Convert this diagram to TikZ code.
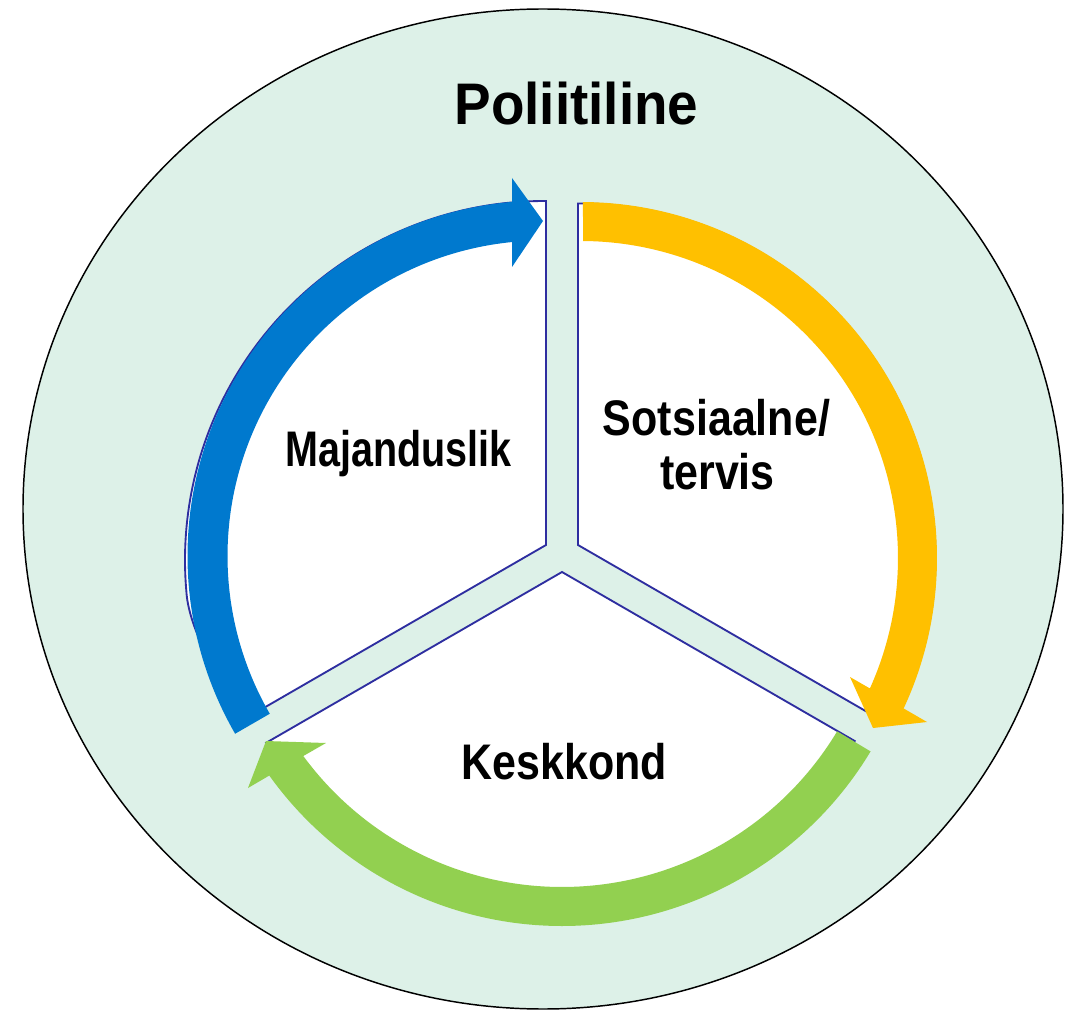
\documentclass[tikz,border=0pt]{standalone}
\usepackage{fontspec}
\setmainfont{Liberation Sans}
\newfontfamily\labfont[FakeStretch=0.86]{Liberation Sans}
\newfontfamily\majfont[FakeStretch=0.79]{Liberation Sans}
\newfontfamily\titfont[FakeStretch=0.935]{Liberation Sans}
\usetikzlibrary{calc}
\definecolor{mint}{RGB}{221,241,232}
\definecolor{bluec}{RGB}{0,121,206}
\definecolor{yellowc}{RGB}{255,192,0}
\definecolor{greenc}{RGB}{146,208,80}
\definecolor{edgec}{RGB}{46,46,160}
\tikzset{
  sector/.style={fill=white, draw=edgec, line width=1.4pt, line join=miter},
  lab/.style={inner sep=0pt, anchor=base, font=\labfont\bfseries\fontsize{37.5pt}{40pt}\selectfont},
  tit/.style={inner sep=0pt, anchor=base, font=\titfont\bfseries\fontsize{44pt}{48pt}\selectfont}
}
\begin{document}
\begin{tikzpicture}[x=0.75pt,y=0.75pt]
\useasboundingbox (0,0) rectangle (1075,-1012);
% centres
\coordinate (O) at (543,-509);
\coordinate (B) at (543,-556);
\coordinate (Y) at (581,-558);
\coordinate (G) at (562,-566);
\coordinate (LS) at (544,-560);
% outer political ellipse
\filldraw[fill=mint, draw=black, line width=1.1pt] (O) ellipse[x radius=520, y radius=500];
% sectors
\filldraw[sector] (546,-545) -- ($(LS)+(89.68:359)$) arc[start angle=89.68, end angle=185, radius=359]
  .. controls (188,-622) and (212,-680) .. (255.9,-712.5) -- cycle;
\filldraw[sector] (578,-545) -- ($(Y)+(90.48:354.5)$) arc[start angle=90.48, end angle=-15, radius=354.5] -- (878.5,-718.5) -- cycle;
\filldraw[sector] (562,-572) -- (854.7,-741) -- ($(G)+(-40:358)$) arc[start angle=-40, end angle=-140, radius=358] -- (266,-742.9) -- cycle;
% arrows
\fill[bluec] ($(B)+(210:355.5)$) arc[start angle=210, end angle=95.0, radius=355.5]
  -- (512,-178) -- (543,-221) -- (512,-267)
  -- ($(B)+(95.64:315.5)$) arc[start angle=95.64, end angle=210, radius=315.5] -- cycle;
\fill[yellowc] ($(Y)+(89.7:356)$) arc[start angle=89.7, end angle=-25.0, radius=356]
  -- (927,-722) -- (873,-728) -- (850,-677)
  -- ($(Y)+(-24.3:317)$) arc[start angle=-24.3, end angle=89.6, radius=317] -- cycle;
\fill[greenc] ($(G)+(-31:360)$) arc[start angle=-31, end angle=-144.4, radius=360]
  -- (248,-788) -- (266,-741) -- (326,-743)
  -- ($(G)+(-143.7:321)$) arc[start angle=-143.7, end angle=-31, radius=321] -- cycle;
% texts
\node[tit] (pol) at (576.5,-125) {Poliitiline};
\node[lab, font=\majfont\bfseries\fontsize{37.5pt}{40pt}\selectfont] (maj) at (398.5,-467) {Majanduslik};
\node[lab] (sot) at (716.5,-436) {Sotsiaalne/};
\node[lab] (ter) at (717.5,-489) {tervis};
\node[lab] (kes) at (564.5,-779) {Keskkond};
\end{tikzpicture}
\end{document}
